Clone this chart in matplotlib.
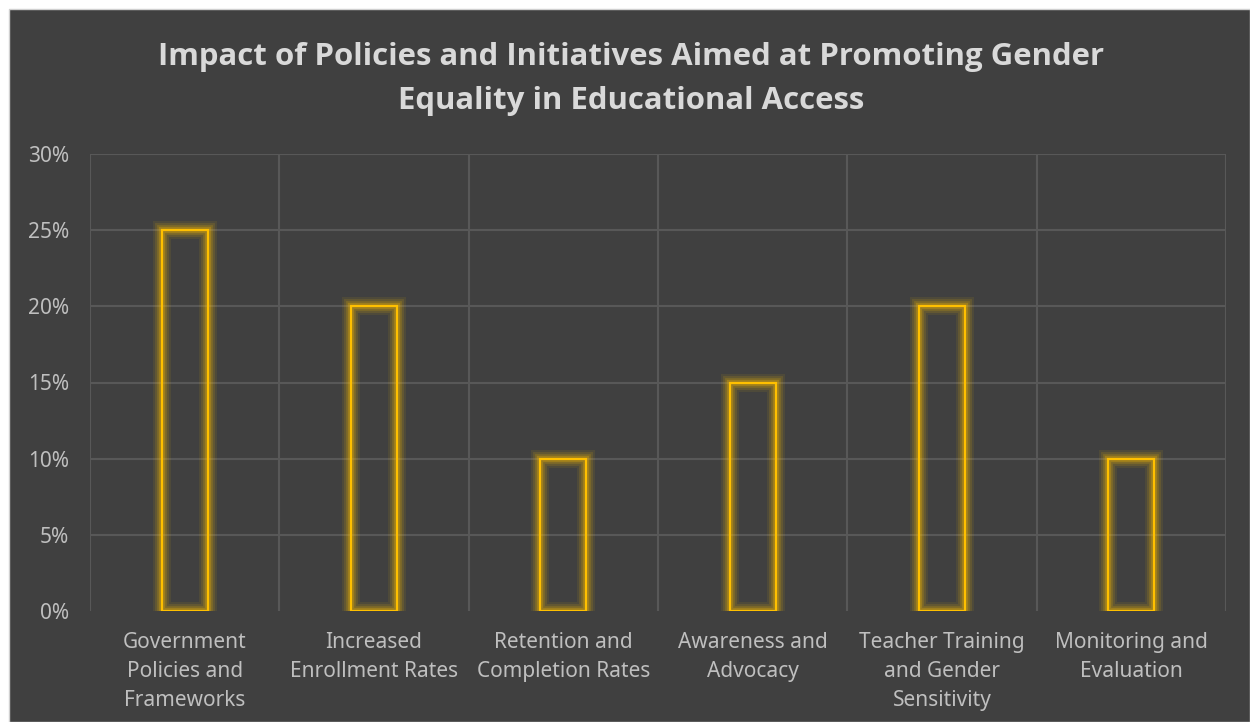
import matplotlib
matplotlib.use("Agg")
import matplotlib.pyplot as plt
from matplotlib.patches import Rectangle
import numpy as np

categories = ["Government\nPolicies and\nFrameworks", "Increased\nEnrollment Rates",
              "Retention and\nCompletion Rates", "Awareness and\nAdvocacy",
              "Teacher Training\nand Gender\nSensitivity", "Monitoring and\nEvaluation"]
values = [0.25, 0.20, 0.10, 0.15, 0.20, 0.10]
yticks = [0, 0.05, 0.10, 0.15, 0.20, 0.25, 0.30]
ytick_labels = ["0%", "5%", "10%", "15%", "20%", "25%", "30%"]
title = "Impact of Policies and Initiatives Aimed at Promoting Gender\nEquality in Educational Access"

plt.rcParams['font.family'] = ['Open Sans', 'DejaVu Sans']

BG = "#404040"
GRID = "#585858"
YELLOW = "#FFC000"
TICK_FONT = ['Noto Sans', 'DejaVu Sans']

fig = plt.figure(figsize=(12.5, 7.22), dpi=100)
fig.patch.set_facecolor("white")
# dark chart area
fig.patches.append(Rectangle((9/1250, 0), 1 - 9/1250, 1 - 9/722, transform=fig.transFigure,
                             facecolor=BG, edgecolor="#d0d0d0", linewidth=1.0, zorder=-10))

ax = fig.add_axes([90/1250, 1 - 611/722, (1226 - 90)/1250, (611 - 154)/722])
ax.set_facecolor("none")
x = np.arange(len(categories))
ax.set_xlim(-0.5, len(categories) - 0.5)
ax.set_ylim(0, 0.30)

# grid
for yv in yticks[1:]:
    ax.axhline(yv, color=GRID, linewidth=1.5, zorder=1)
for xv in np.arange(-0.5, len(categories), 1.0):
    ax.axvline(xv, color=GRID, linewidth=1.5, zorder=1)

w = 0.243
# glow layers
for lw, a in [(13, 0.08), (10, 0.12), (7, 0.17), (4.5, 0.25)]:
    ax.bar(x, values, width=w, facecolor="none", edgecolor=YELLOW, linewidth=lw,
           alpha=a, zorder=2, joinstyle="miter")
ax.bar(x, values, width=w, facecolor="none", edgecolor=YELLOW, linewidth=1.6, zorder=3,
       joinstyle="miter")

for s in ax.spines.values():
    s.set_visible(False)
ax.set_yticks(yticks)
ax.set_yticklabels(ytick_labels, family=TICK_FONT, fontsize=15)
ax.set_xticks(x)
ax.set_xticklabels(categories, family=TICK_FONT, fontsize=15, linespacing=1.5)
ax.tick_params(axis='both', length=0, colors="#BFBFBF")
ax.tick_params(axis='y', pad=15)
ax.tick_params(axis='x', pad=15)

fig.text(0.505, 1 - 79/722, title, ha="center", va="center", fontsize=22.4, fontweight="bold",
         color="#D9D9D9", linespacing=1.6)

fig.savefig("out.png", dpi=100, facecolor=fig.get_facecolor())
